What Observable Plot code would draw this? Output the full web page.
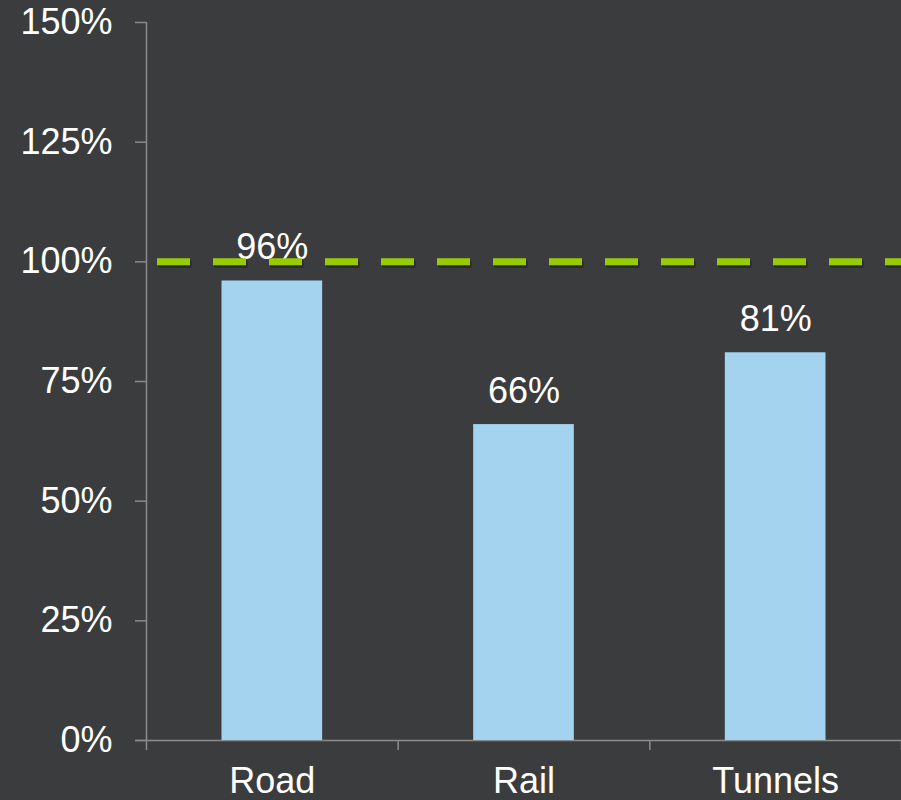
<!DOCTYPE html>
<html>
<head>
<meta charset="utf-8">
<script src="https://cdn.jsdelivr.net/npm/d3@7"></script>
<script src="https://cdn.jsdelivr.net/npm/@observablehq/plot@0.6"></script>
<style>
  html, body { margin: 0; padding: 0; background: #3b3c3e; }
  #chart svg { display: block; }
</style>
</head>
<body>
<div id="chart"></div>
<script>
const categories = ["Road", "Rail", "Tunnels"];
const values = [96, 66, 81];
const yTicks = [0, 25, 50, 75, 100, 125, 150];
const target = [100];

const data = categories.map((c, i) => ({category: c, value: values[i], i}));
const boundaries = d3.range(categories.length + 1);

const axisColor = "#8a8a8a";
const font = "'Liberation Sans', Arial, Helvetica, sans-serif";

const chart = Plot.plot({
  width: 901,
  height: 800,
  marginTop: 22,
  marginBottom: 60,
  marginLeft: 146,
  marginRight: 0,
  style: {background: "#3b3c3e", color: "#ffffff", fontFamily: font, fontSize: "36px", overflow: "visible"},
  x: {type: "linear", domain: [0, categories.length], axis: null},
  y: {domain: [0, 150], axis: null},
  marks: [
    Plot.axisY({
      ticks: yTicks,
      tickFormat: d => d + "%",
      tickSize: 11,
      tickPadding: 23,
      stroke: axisColor,
      strokeWidth: 1.5,
      fill: "#ffffff",
      fontSize: 36,
      fontFamily: font,
      label: null
    }),
    Plot.axisX({
      ticks: boundaries,
      tickSize: 10,
      tickFormat: () => "",
      stroke: axisColor,
      strokeWidth: 1.5,
      label: null
    }),
    Plot.ruleX([0], {stroke: axisColor, strokeWidth: 1.5}),
    Plot.ruleY([0], {stroke: axisColor, strokeWidth: 1.5, insetLeft: -11}),
    Plot.rectY(data, {
      x1: d => d.i + 0.3,
      x2: d => d.i + 0.7,
      y: "value",
      fill: "#a3d3ef"
    }),
    Plot.text(data, {
      x: d => d.i + 0.5,
      y: "value",
      text: d => d.value + "%",
      fill: "#ffffff",
      fontSize: 36,
      fontFamily: font,
      lineAnchor: "bottom",
      dy: -22
    }),
    Plot.text(data, {
      x: d => d.i + 0.5,
      y: 0,
      text: "category",
      fill: "#ffffff",
      fontSize: 36,
      fontFamily: font,
      lineAnchor: "top",
      dy: 27
    }),
    Plot.ruleY(target, {
      stroke: "#1e1e1f",
      strokeOpacity: 0.6,
      strokeWidth: 7,
      strokeDasharray: "33,23",
      insetLeft: 11,
      dx: 1.5,
      dy: 2.5
    }),
    Plot.ruleY(target, {
      stroke: "#99cc00",
      strokeWidth: 7,
      strokeDasharray: "33,23",
      insetLeft: 11
    })
  ]
});

document.getElementById("chart").appendChild(chart);
</script>
</body>
</html>
